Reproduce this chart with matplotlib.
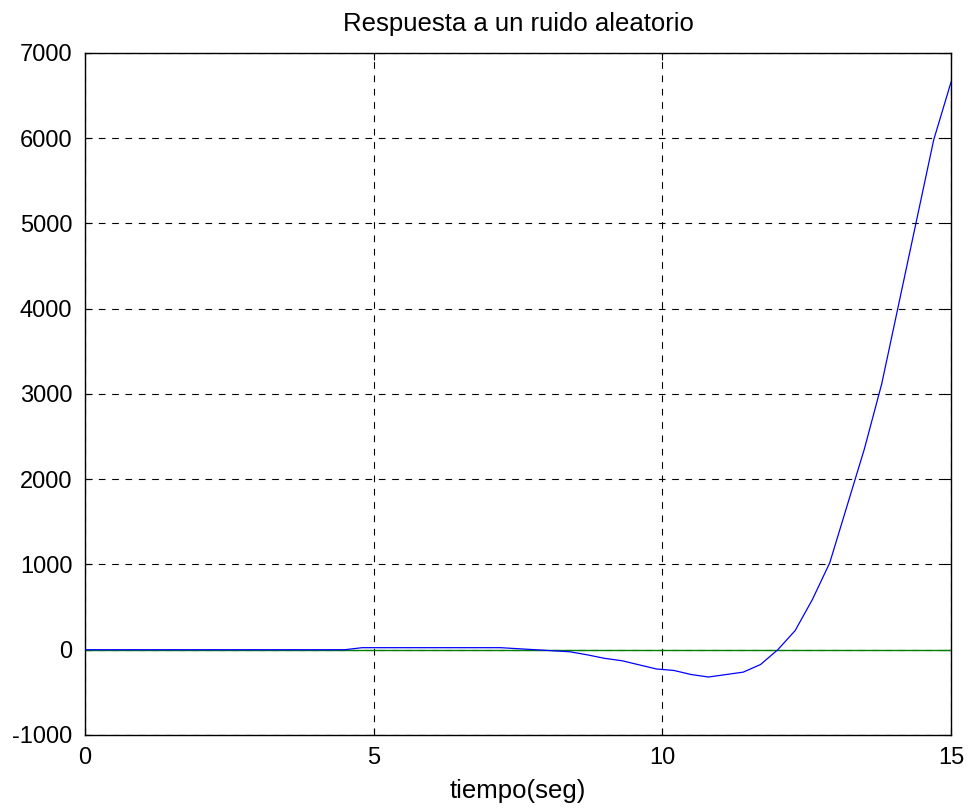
import matplotlib.pyplot as plt
import numpy as np

plt.rcParams['font.family'] = ['Liberation Sans', 'DejaVu Sans']
plt.rcParams['axes.unicode_minus'] = False

# respuesta del sistema (vertices de la curva)
t = [0.0, 4.5, 4.8, 7.2, 7.8, 8.4, 8.7, 9.0, 9.3, 9.9, 10.2, 10.5, 10.8,
     11.4, 11.7, 12.0, 12.3, 12.6, 12.9, 13.2, 13.5, 13.8, 14.1, 14.4,
     14.7, 15.0]
y = [0, 0, 24, 24, 0, -24, -60, -101, -129, -226, -243, -291, -320,
     -263, -174, 0, 224, 590, 1020, 1688, 2356, 3119, 4072, 5026,
     5980, 6657]

# entrada de referencia
t_ref = [0, 15]
y_ref = [0, 0]

fig = plt.figure(figsize=(9.72, 8.09), dpi=100)
ax = fig.add_axes([0.0874, 0.0915, 0.891, 0.843])

ax.plot(t_ref, y_ref, color='#008000', lw=1.0, zorder=2)
ax.plot(t, y, color='#0000ff', lw=0.9, zorder=3)

ax.set_xlim(0, 15)
ax.set_ylim(-1000, 7000)
ax.set_xticks([0, 5, 10, 15])
ax.set_yticks(np.arange(-1000, 7001, 1000))
ax.grid(True, color='black', linestyle=(0, (6, 6)), lw=0.8)
ax.tick_params(direction='in', top=True, right=True, labelsize=17, length=5)
ax.tick_params(axis='y', pad=9)
ax.tick_params(axis='x', pad=9)
for s in ax.spines.values():
    s.set_linewidth(1.0)

ax.set_title('Respuesta a un ruido aleatorio', fontsize=18.5, pad=15.5)
ax.set_xlabel('tiempo(seg)', fontsize=18.5, labelpad=7)

fig.savefig('out.png', dpi=100)
